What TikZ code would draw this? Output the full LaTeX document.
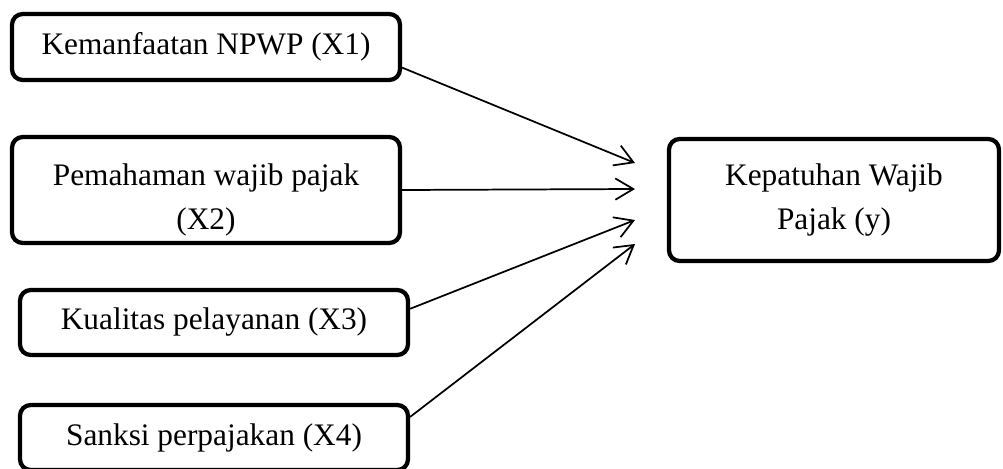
\documentclass[tikz,border=0pt]{standalone}
\usepackage{fontspec}
\setmainfont{Liberation Serif}
\usetikzlibrary{arrows.meta}
\begin{document}
\begin{tikzpicture}[x=0.75pt,y=-0.75pt,>={Straight Barb[length=13.5pt,width=16pt]},
  box/.style={draw,line width=3.2pt,rounded corners=8pt,inner sep=0pt,align=center,font=\fontsize{23.5pt}{33pt}\selectfont}]
\useasboundingbox (0,0) rectangle (1003,468);
% factor boxes on the left
\node[box,minimum width=291pt,minimum height=49.5pt] (X1) at (206,47) {Kemanfaatan NPWP (X1)};
\node[box,minimum width=291pt,minimum height=79.5pt,text height=64pt,text depth=4.9pt] (X2) at (206,190) {Pemahaman wajib pajak\\(X2)};
\node[box,minimum width=291pt,minimum height=48.75pt] (X3) at (214,322.5) {Kualitas pelayanan (X3)};
\node[box,minimum width=291pt,minimum height=48.75pt] (X4) at (214,437.5) {Sanksi perpajakan (X4)};
% dependent variable
\node[box,minimum width=247.5pt,minimum height=91.5pt] (Y) at (834,200) {Kepatuhan Wajib\\Pajak (y)};
% arrow ends in front of Y
\coordinate (aX1) at (635,163); \coordinate (aX2) at (635,189); \coordinate (aX3) at (635,220); \coordinate (aX4) at (635,244);
\foreach \A/\B in {X1.-6/aX1,X2.east/aX2,X3.4.5/aX3,X4.6/aX4}{\draw[->,line width=1.3pt] (\A) -- (\B);}
\end{tikzpicture}
\end{document}
